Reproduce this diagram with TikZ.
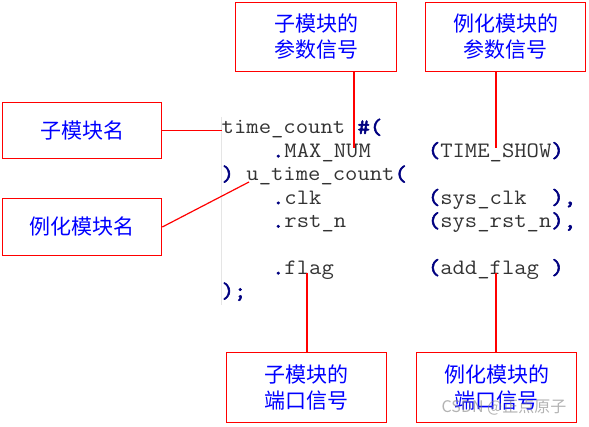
\documentclass[tikz,border=0pt]{standalone}
\usepackage{fontspec}
\newfontfamily\cjk{Noto Sans CJK SC}
\newfontfamily\codefont{Latin Modern Mono}[FakeStretch=1.09]
\newfontfamily\codebold{Latin Modern Mono}[FakeStretch=1.09, FakeBold=2.5]
\definecolor{codegray}{HTML}{333333}
\definecolor{navy}{HTML}{000080}
% punctuation of the code in bold navy
\newcommand\pn[1]{{\codebold\color{navy}#1}}
\begin{document}
\begin{tikzpicture}[x=1pt, y=-1pt,
    lbl/.style={draw=red, line width=1.6pt, text=blue, align=center, inner sep=0pt,
        font=\cjk\fontsize{21}{26}\selectfont},
    code/.style={anchor=base west, inner sep=0pt, text=codegray,
        font=\codefont\fontsize{22}{23.4}\selectfont},
    lead/.style={red, line width=1.2pt}]
    \useasboundingbox (0,0) rectangle (589,427);
    % code block
    \draw[gray!20] (221,117) -- (221,305);
    \node[code] (tcline) at (221.5,134)   {time\_count \pn{\#(}};
    \node[code] (maxnum) at (271.9,157.4) {\pn{.}MAX\_NUM};
    \node[code] (tshow)  at (427.7,157.4) {\pn{(}TIME\_SHOW\pn{)}};
    \node[code] (uinst)  at (221.5,180.8) {\pn{)} u\_time\_count\pn{(}};
    \node[code] (clk)    at (271.9,204.2) {\pn{.}clk};
    \node[code] (sysclk) at (427.7,204.2) {\pn{(}sys\_clk~~\pn{),}};
    \node[code] (rst)    at (271.9,227.6) {\pn{.}rst\_n};
    \node[code] (sysrst) at (427.7,227.6) {\pn{(}sys\_rst\_n\pn{),}};
    \node[code] (flag)   at (271.9,274.4) {\pn{.}flag};
    \node[code] (addflg) at (427.7,274.4) {\pn{(}add\_flag~\pn{)}};
    \node[code] (endl)   at (221.5,297.8) {\pn{);}};
    % labels
    \node[lbl, minimum width=159, minimum height=56] (subname) at (82,130.5) {子模块名};
    \node[lbl, minimum width=159, minimum height=57] (instname) at (82,227) {例化模块名};
    \node[lbl, minimum width=161, minimum height=69] (subpar) at (316,37) {子模块的\\参数信号};
    \node[lbl, minimum width=160, minimum height=69] (instpar) at (505.5,37) {例化模块的\\参数信号};
    \node[lbl, minimum width=160, minimum height=70] (subport) at (306.5,387.5) {子模块的\\端口信号};
    \node[lbl, minimum width=160, minimum height=70] (instport) at (496.5,387.5) {例化模块的\\端口信号};
    % leader lines
    \coordinate (tcpt) at (222,130.5);
    \coordinate (upt) at (249,182);
    \coordinate (p1) at (354,148);
    \coordinate (p2) at (496,148);
    \coordinate (q1) at (307,273);
    \coordinate (q2) at (496,273);
    \draw[lead] (subname.east) -- (tcpt);
    \draw[lead] (instname.east) -- (upt);
    \draw[lead] (subpar.south -| p1) -- (p1);
    \draw[lead] (instpar.south -| p2) -- (p2);
    \draw[lead] (subport.north -| q1) -- (q1);
    \draw[lead] (instport.north -| q2) -- (q2);
    % watermark
    \node[text=gray, opacity=0.6, inner sep=0pt, font=\cjk\fontsize{16}{16}\selectfont] (wm) at (504,407) {CSDN @正点原子};
\end{tikzpicture}
\end{document}
